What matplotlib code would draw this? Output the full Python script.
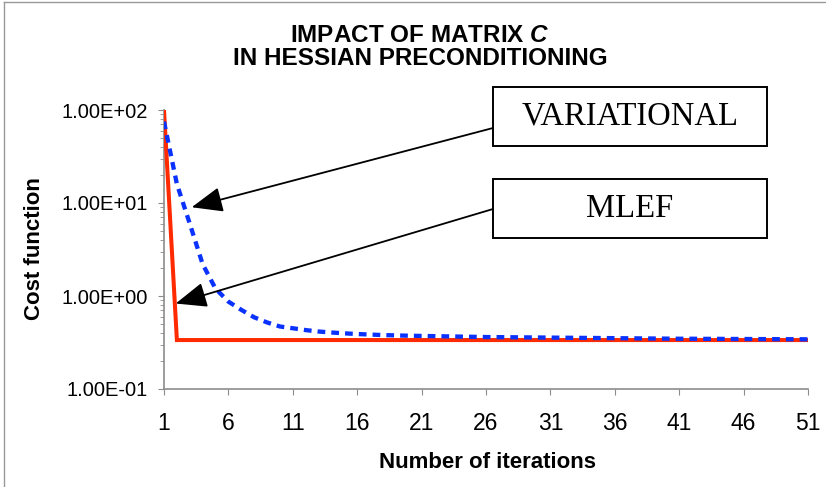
import numpy as np
import matplotlib
matplotlib.use('Agg')
import matplotlib.pyplot as plt
from matplotlib.patches import Rectangle
from matplotlib.lines import Line2D
from matplotlib.ticker import FixedLocator, FuncFormatter, LogLocator, NullFormatter

plt.rcParams['font.family'] = ['Liberation Sans', 'DejaVu Sans']
plt.rcParams['mathtext.fontset'] = 'custom'
plt.rcParams['mathtext.it'] = 'Liberation Sans:bold:italic'

# data
iterations = list(range(1, 52))
variational = [75, 16, 6.0, 2.2, 1.2, 0.87, 0.71, 0.59, 0.52, 0.47,
               0.45, 0.43, 0.415, 0.405, 0.397, 0.39, 0.385, 0.38, 0.377, 0.374,
               0.372, 0.37, 0.368, 0.366, 0.364, 0.362, 0.361, 0.36, 0.359, 0.358,
               0.357, 0.356, 0.355, 0.354, 0.353, 0.352, 0.351, 0.35, 0.349, 0.348,
               0.347, 0.347, 0.346, 0.346, 0.345, 0.345, 0.344, 0.344, 0.343, 0.343,
               0.342]
mlef = [100] + [0.336] * 50
xticks = [1, 6, 11, 16, 21, 26, 31, 36, 41, 46, 51]
yticks = [0.1, 1, 10, 100]

W, H = 826, 487


def px(x, y):
    # image pixel (from top-left) -> figure fraction
    return x / W, 1 - y / H


fig = plt.figure(figsize=(W / 100, H / 100), dpi=100)
ax = fig.add_axes([164 / W, (H - 389) / H, (808 - 164) / W, (389 - 110) / H])

ax.plot(iterations, mlef, color='#FF2A00', lw=2.9, zorder=3, solid_joinstyle='miter')
ax.plot(iterations, variational, color='#0A32FF', lw=3.1, ls=(0, (1.8, 1.4)),
        dash_capstyle='butt', zorder=4)

ax.set_yscale('log')
ax.set_xlim(1, 51)
ax.set_ylim(0.1, 100)

ax.xaxis.set_major_locator(FixedLocator(xticks))
ax.yaxis.set_major_locator(FixedLocator(yticks))
ax.yaxis.set_minor_locator(LogLocator(base=10, subs=np.arange(2, 10)))
ax.yaxis.set_minor_formatter(NullFormatter())
ax.yaxis.set_major_formatter(FuncFormatter(lambda v, p: f'{v:.2E}'))

for s in ['top', 'right']:
    ax.spines[s].set_visible(False)
for s in ['left', 'bottom']:
    ax.spines[s].set_color('#8C8C8C')
    ax.spines[s].set_linewidth(1.2)

ax.tick_params(axis='x', which='major', length=4.3, color='#8C8C8C', labelsize=16.5, pad=12)
ax.tick_params(axis='y', which='major', length=4.5, color='#8C8C8C', labelsize=14.5, pad=7)
ax.tick_params(axis='y', which='minor', length=3, color='#8C8C8C')

# titles and axis labels
fig.text(*px(420, 35), r'IMPACT OF MATRIX $\mathit{C}$', ha='center', va='center',
         fontsize=17.5, fontweight='bold')
fig.text(*px(420, 58.5), 'IN HESSIAN PRECONDITIONING', ha='center', va='center',
         fontsize=17.5, fontweight='bold')
fig.text(*px(34.5, 249), 'Cost function', rotation=90, ha='center', va='center',
         fontsize=16, fontweight='bold')
fig.text(*px(487, 462), 'Number of iterations', ha='center', va='center',
         fontsize=16, fontweight='bold')

# chart border (top and left only visible)
fig.add_artist(Line2D([4 / W, 1], [1 - 2 / H, 1 - 2 / H], transform=fig.transFigure,
                      color='#999999', lw=1))
fig.add_artist(Line2D([4 / W, 4 / W], [0, 1 - 2 / H], transform=fig.transFigure,
                      color='#999999', lw=1))

# label boxes
boxes = [('VARIATIONAL', 87, 146, (3.15, 9.0), 128),
         ('MLEF', 179, 238, (1.91, 0.83), 209)]
for name, top, bottom, tip, tail_y in boxes:
    x0, y0 = px(493, bottom)
    x1, y1 = px(767, top)
    fig.add_artist(Rectangle((x0, y0), x1 - x0, y1 - y0, transform=fig.transFigure,
                             facecolor='white', edgecolor='black', lw=1.4, zorder=5))
    fig.text((x0 + x1) / 2, (y0 + y1) / 2, name, ha='center', va='center',
             fontsize=23.5, family='Liberation Serif', zorder=6)
    ax.annotate('', xy=tip, xycoords='data', xytext=px(493, tail_y),
                textcoords='figure fraction',
                arrowprops=dict(arrowstyle='-|>,head_length=1.6,head_width=0.65',
                                mutation_scale=12, color='black', lw=1.3,
                                shrinkA=0, shrinkB=0),
                zorder=5, annotation_clip=False)

fig.savefig('out.png', dpi=100)
